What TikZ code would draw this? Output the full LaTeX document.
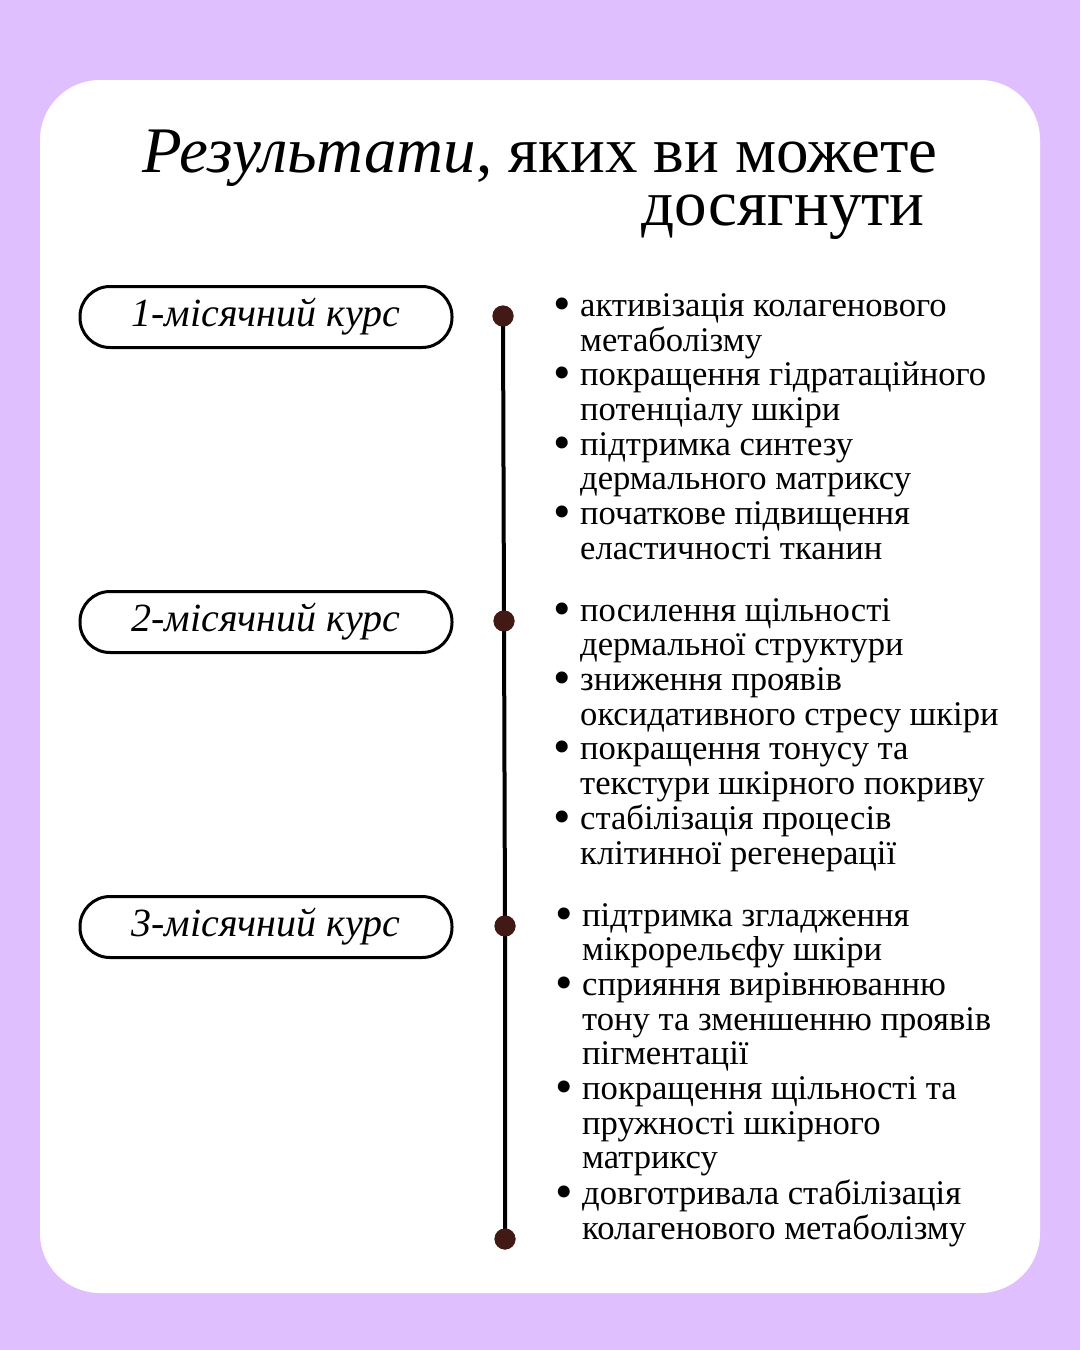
\documentclass[tikz,border=0pt]{standalone}
\usepackage{fontspec}
\setmainfont{Liberation Serif}
\usetikzlibrary{positioning}

\definecolor{lilac}{HTML}{E0BFFE}
\definecolor{dotbrown}{HTML}{421A15}

\newcommand{\blt}{\raisebox{-4pt}{\fontsize{50}{34}\selectfont\textbullet}}

\begin{document}
\begin{tikzpicture}
  [
  x=1pt, y=-1pt,
  titletext/.style={inner sep=0pt, font=\fontsize{65}{50}\selectfont},
  coursebox/.style={draw, line width=3pt, rounded corners=30pt, minimum width=372pt,
    minimum height=61pt, inner sep=0pt, font=\fontsize{40}{44}\selectfont\itshape},
  tldot/.style={circle, fill=dotbrown, inner sep=0pt, minimum size=21pt},
  itemlist/.style={inner sep=0pt, anchor=base west, font=\fontsize{34.6}{34.7}\selectfont}
  ]
  % background and card
  \fill[lilac] (0,0) rectangle (1080,1350);
  \useasboundingbox (0,0) rectangle (1080,1350);
  \fill[white, rounded corners=60pt] (40,80) rectangle (1040,1293);

  % title
  \node[titletext, anchor=base] (t1) at (540,172) {\textit{Результати}, яких ви можете};
  \node[titletext, anchor=base east] (t2) at (925,225) {досягнути};

  % courses
  \node[coursebox] (c1) at (266,317) {1-місячний курс};
  \node[coursebox] (c2) at (266,622) {2-місячний курс};
  \node[coursebox] (c3) at (266,927) {3-місячний курс};

  % timeline
  \node[tldot] (d1) at (503,316) {};
  \node[tldot] (d2) at (504,621) {};
  \node[tldot] (d3) at (505,926) {};
  \node[tldot] (d4) at (505,1239) {};
  \draw[line width=4pt] (d1.center) -- (d2.center) -- (d3.center) -- (d4.center);
  \foreach \d in {d1,d2,d3,d4}
    \fill[dotbrown] (\d) circle (10.5pt);

  % results
  \node[itemlist] (r1) at (553,316) {\begin{tabular}[t]{@{}p{27pt}@{}l@{}}
    \blt & активізація колагенового \\
         & метаболізму \\
    \blt & покращення гідратаційного \\
         & потенціалу шкіри \\
    \blt & підтримка синтезу \\
         & дермального матриксу \\
    \blt & початкове підвищення \\
         & еластичності тканин
  \end{tabular}};
  \node[itemlist] (r2) at (553,621) {\begin{tabular}[t]{@{}p{27pt}@{}l@{}}
    \blt & посилення щільності \\
         & дермальної структури \\
    \blt & зниження проявів \\
         & оксидативного стресу шкіри \\
    \blt & покращення тонусу та \\
         & текстури шкірного покриву \\
    \blt & стабілізація процесів \\
         & клітинної регенерації
  \end{tabular}};
  \node[itemlist] (r3) at (555,926) {\begin{tabular}[t]{@{}p{27pt}@{}l@{}}
    \blt & підтримка згладження \\
         & мікрорельєфу шкіри \\
    \blt & сприяння вирівнюванню \\
         & тону та зменшенню проявів \\
         & пігментації \\
    \blt & покращення щільності та \\
         & пружності шкірного \\
         & матриксу \\
    \blt & довготривала стабілізація \\
         & колагенового метаболізму
  \end{tabular}};
\end{tikzpicture}
\end{document}
